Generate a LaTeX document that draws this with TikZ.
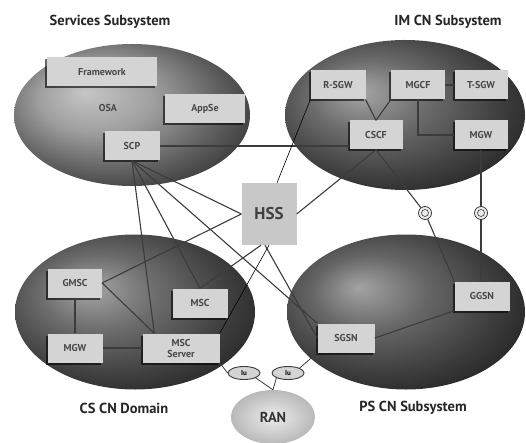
\documentclass[tikz,border=0pt]{standalone}
\usepackage{fontspec}
\setmainfont{PT Sans}
\usepackage{tikz}
\usetikzlibrary{shapes.geometric, arrows.meta, positioning, calc, shadows}
\usepackage{xcolor}
\definecolor{boxGray}{HTML}{D4D4D4}
\definecolor{lineGray}{HTML}{3C3C3C}
\definecolor{hssGray}{HTML}{C8C8C8}
\makeatletter
\pgfdeclareradialshading[tikz@ball]{softball}{\pgfqpoint{-10bp}{8bp}}{%
    color(0bp)=(tikz@ball!60!white); color(12bp)=(tikz@ball);
    color(24bp)=(tikz@ball!60!black); color(34bp)=(tikz@ball!30!black); color(50bp)=(black)}
\makeatother

\begin{document}
\begin{tikzpicture}[x=1pt, y=-1pt,
    netbox/.style={fill=boxGray, minimum height=29pt, inner sep=1pt, align=center,
        font=\fontsize{10}{11}\selectfont\bfseries, text=black!72,
        drop shadow={shadow xshift=-2pt, shadow yshift=-2pt, fill=black, opacity=0.6}},
    netdomain/.style={ellipse, draw=none},
    link/.style={draw=lineGray, line width=1.1pt},
    thinlink/.style={draw=black, line width=0.6pt},
    iface/.style={ellipse, draw=lineGray, line width=0.9pt, fill=boxGray, minimum width=32pt,
        minimum height=13pt, inner sep=0pt, font=\scriptsize\bfseries},
    refpt/.style={circle, draw=lineGray, line width=0.8pt, fill=gray!15, minimum size=13pt, inner sep=0pt,
        path picture={\draw[lineGray, line width=0.6pt] (path picture bounding box.center) circle (3.5pt);}},
    title/.style={font=\fontsize{14.5}{16}\selectfont\bfseries, text=black!85},
]
    \useasboundingbox (0,0) rectangle (526,443);

    % Headers
    \node[title] (srvTitle) at (110, 22) {Services Subsystem};
    \node[title] (imsTitle) at (448, 22) {IM CN Subsystem};
    \node[title] (csTitle) at (124, 408) {CS CN Domain};
    \node[title] (psTitle) at (413, 408) {PS CN Subsystem};

    % Domains
    \node[netdomain, ball color=gray!75, shading=softball, minimum width=236pt, minimum height=142pt] (srvEll) at (132, 115) {};
    \node[netdomain, ball color=gray!85!black, shading=softball, minimum width=240pt, minimum height=150pt] (imsEll) at (405, 115) {};
    \node[netdomain, ball color=gray!85!black, shading=softball, minimum width=240pt, minimum height=155pt] (csEll) at (135, 312) {};
    \node[netdomain, ball color=gray!80!black, shading=softball, minimum width=238pt, minimum height=155pt] (psEll) at (406, 312) {};
    \node[netdomain, shading=radial, inner color=gray!15, outer color=gray!55, minimum width=84pt, minimum height=54pt,
        font=\Large\bfseries, text=black!80] (ran) at (273, 417) {RAN};

    % Services subsystem
    \node[netbox, minimum width=110pt] (fw) at (102, 72) {Framework};
    \node[font=\fontsize{10}{11}\selectfont\bfseries, text=black!72] (osa) at (108, 108) {OSA};
    \node[netbox, minimum width=80pt] (appse) at (205, 109) {AppSe};
    \node[netbox, minimum width=55pt] (scp) at (132, 146) {SCP};

    % IM CN subsystem
    \node[netbox, minimum width=55pt] (rsgw) at (338, 85) {R-SGW};
    \node[netbox, minimum width=54pt] (mgcf) at (418, 85) {MGCF};
    \node[netbox, minimum width=53pt] (tsgw) at (481, 85) {T-SGW};
    \node[netbox, minimum width=53pt] (cscf) at (376, 135) {CSCF};
    \node[netbox, minimum width=53pt] (imMgw) at (481, 135) {MGW};

    % HSS
    \node[fill=hssGray, minimum width=55pt, minimum height=62pt, font=\fontsize{17}{19}\selectfont\bfseries,
        text=black!75] (hss) at (269, 214) {HSS};

    % CS CN domain
    \node[netbox, minimum width=54pt] (gmsc) at (75, 283) {GMSC};
    \node[netbox, minimum width=55pt] (msc) at (200, 303) {MSC};
    \node[netbox, minimum width=55pt] (csMgw) at (75, 348) {MGW};
    \node[netbox, minimum width=77pt] (mscSrv) at (181, 348) {MSC\\Server};

    % PS CN subsystem
    \node[netbox, minimum width=55pt] (ggsn) at (482, 296) {GGSN};
    \node[netbox, minimum width=57pt] (sgsn) at (346, 338) {SGSN};

    % Interface points
    \node[refpt] (giA) at (425, 213) {};
    \node[refpt] (giB) at (481, 213) {};
    \node[iface] (iuCs) at (244, 373) {Iu};
    \node[iface] (iuPs) at (288, 373) {Iu};

    % Links from SCP
    \draw[link] (scp.east) -- (scp.east -| cscf.west);
    \draw[link] (scp.south) -- ([xshift=12pt]mscSrv.north west);
    \draw[link] (scp.south) -- (msc.north);
    \draw[link] (scp.south) -- (sgsn.north west);
    \draw[link] (scp.south) -- (hss.west);

    % Links from HSS
    \draw[link] (hss.west) -- (gmsc.east);
    \draw[link] ([xshift=-8pt]hss.south) -- (msc.north);
    \draw[link] ([xshift=-4pt]hss.south) -- (sgsn.west);
    \draw[link] (hss.east) -- (cscf.south);
    \draw[thinlink] (rsgw.south west) -- ([xshift=8pt]hss.north);
    \draw[thinlink] (mscSrv.north east) -- (hss.south);

    % IM CN links
    \draw[link] (rsgw.south east) -- (cscf.north);
    \draw[link] (mgcf.south west) -- (cscf.north);
    \draw[link] (mgcf.east) -- (tsgw.west);
    \draw[link] (mgcf.south) |- (imMgw.west);
    \draw[link] (cscf.south) -- (giA) -- (ggsn.north west);
    \draw[link] (imMgw.south) -- (giB) -- (giB |- ggsn.north);

    % CS CN links
    \draw[link] (gmsc.east) -- ([xshift=12pt]mscSrv.north west);
    \draw[link] (gmsc.south) -- (csMgw.north);
    \draw[link] (csMgw.east) -- (mscSrv.west);

    % PS CN links
    \draw[link] (sgsn.east) -- (ggsn.south west);

    % Radio access
    \draw[link, line width=0.8pt] (mscSrv.south east) -- (iuCs.west);
    \draw[link, line width=0.8pt] (iuCs.south east) -- (ran.north);
    \draw[link, line width=0.8pt] (sgsn.south west) -- (iuPs.north east);
    \draw[link, line width=0.8pt] (iuPs.south west) -- (ran.north);
\end{tikzpicture}
\end{document}
